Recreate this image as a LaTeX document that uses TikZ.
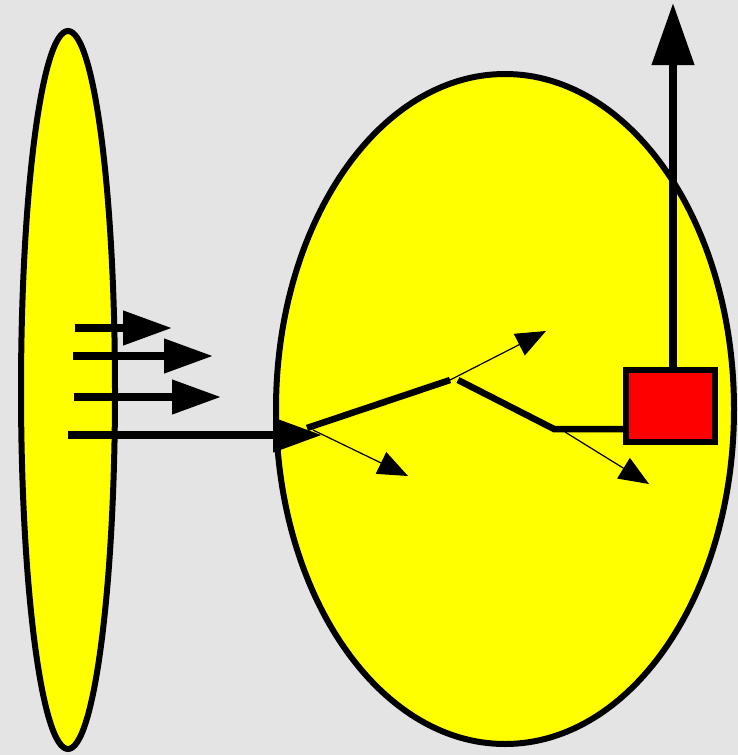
\documentclass[tikz,border=0pt]{standalone}
\usetikzlibrary{arrows.meta}
\definecolor{bggray}{HTML}{E4E4E4}
\definecolor{yel}{HTML}{FFFF00}
\definecolor{redbox}{HTML}{FF0000}
\begin{document}
\begin{tikzpicture}[x=1pt,y=-1pt,
  blob/.style={draw=black,fill=yel,line width=6pt},
  fat/.style={line width=7.5pt,-{Triangle[length=49pt,width=33pt]}},
  beam/.style={line width=6.5pt},
  thin/.style={line width=1.2pt,-{Triangle[length=30pt,width=24pt]}},
  up/.style={line width=7.5pt,-{Triangle[length=62pt,width=41pt]}}]
\fill[bggray] (0,0) rectangle (738,755);
\useasboundingbox (0,0) rectangle (738,755);
% ellipses
\draw[blob] (68,390) ellipse [x radius=47, y radius=359];
\draw[blob] (505,409) ellipse [x radius=229, y radius=335];
% named points
\coordinate (a1s) at (75,328);  \coordinate (a1e) at (172,328);
\coordinate (a2s) at (73,356);  \coordinate (a2e) at (213,356);
\coordinate (a3s) at (74,397);  \coordinate (a3e) at (221,397);
\coordinate (a4s) at (68,435);  \coordinate (a4e) at (322,435);
\coordinate (p0) at (307,428);
\coordinate (p1) at (450,380);
\coordinate (p2) at (458,380);
\coordinate (p3) at (554,429);
\coordinate (t1s) at (313,430);
\coordinate (t1) at (408,476);
\coordinate (t2) at (546,331);
\coordinate (t3s) at (565,432);
\coordinate (t3) at (649,484);
\coordinate (top) at (673,3);
% incoming arrows
\draw[fat] (a1s) -- (a1e);
\draw[fat] (a2s) -- (a2e);
\draw[fat] (a3s) -- (a3e);
\draw[fat] (a4s) -- (a4e);
% thin arrows
\draw[thin] (t1s) -- (t1);
\draw[thin] (p1) -- (t2);
\draw[thin] (t3s) -- (t3);
% beam segments
\draw[beam] (p0) -- (p1);
% red box
\node[draw=black,fill=redbox,line width=6pt,minimum width=89pt,minimum height=72pt,inner sep=0pt,anchor=center] (box) at (670.5,406) {};
\draw[beam,line cap=butt] (p2) -- (p3) -- (box.west |- p3);
% upward arrow
\draw[up] (box.north -| top) -- (top);
\end{tikzpicture}
\end{document}
